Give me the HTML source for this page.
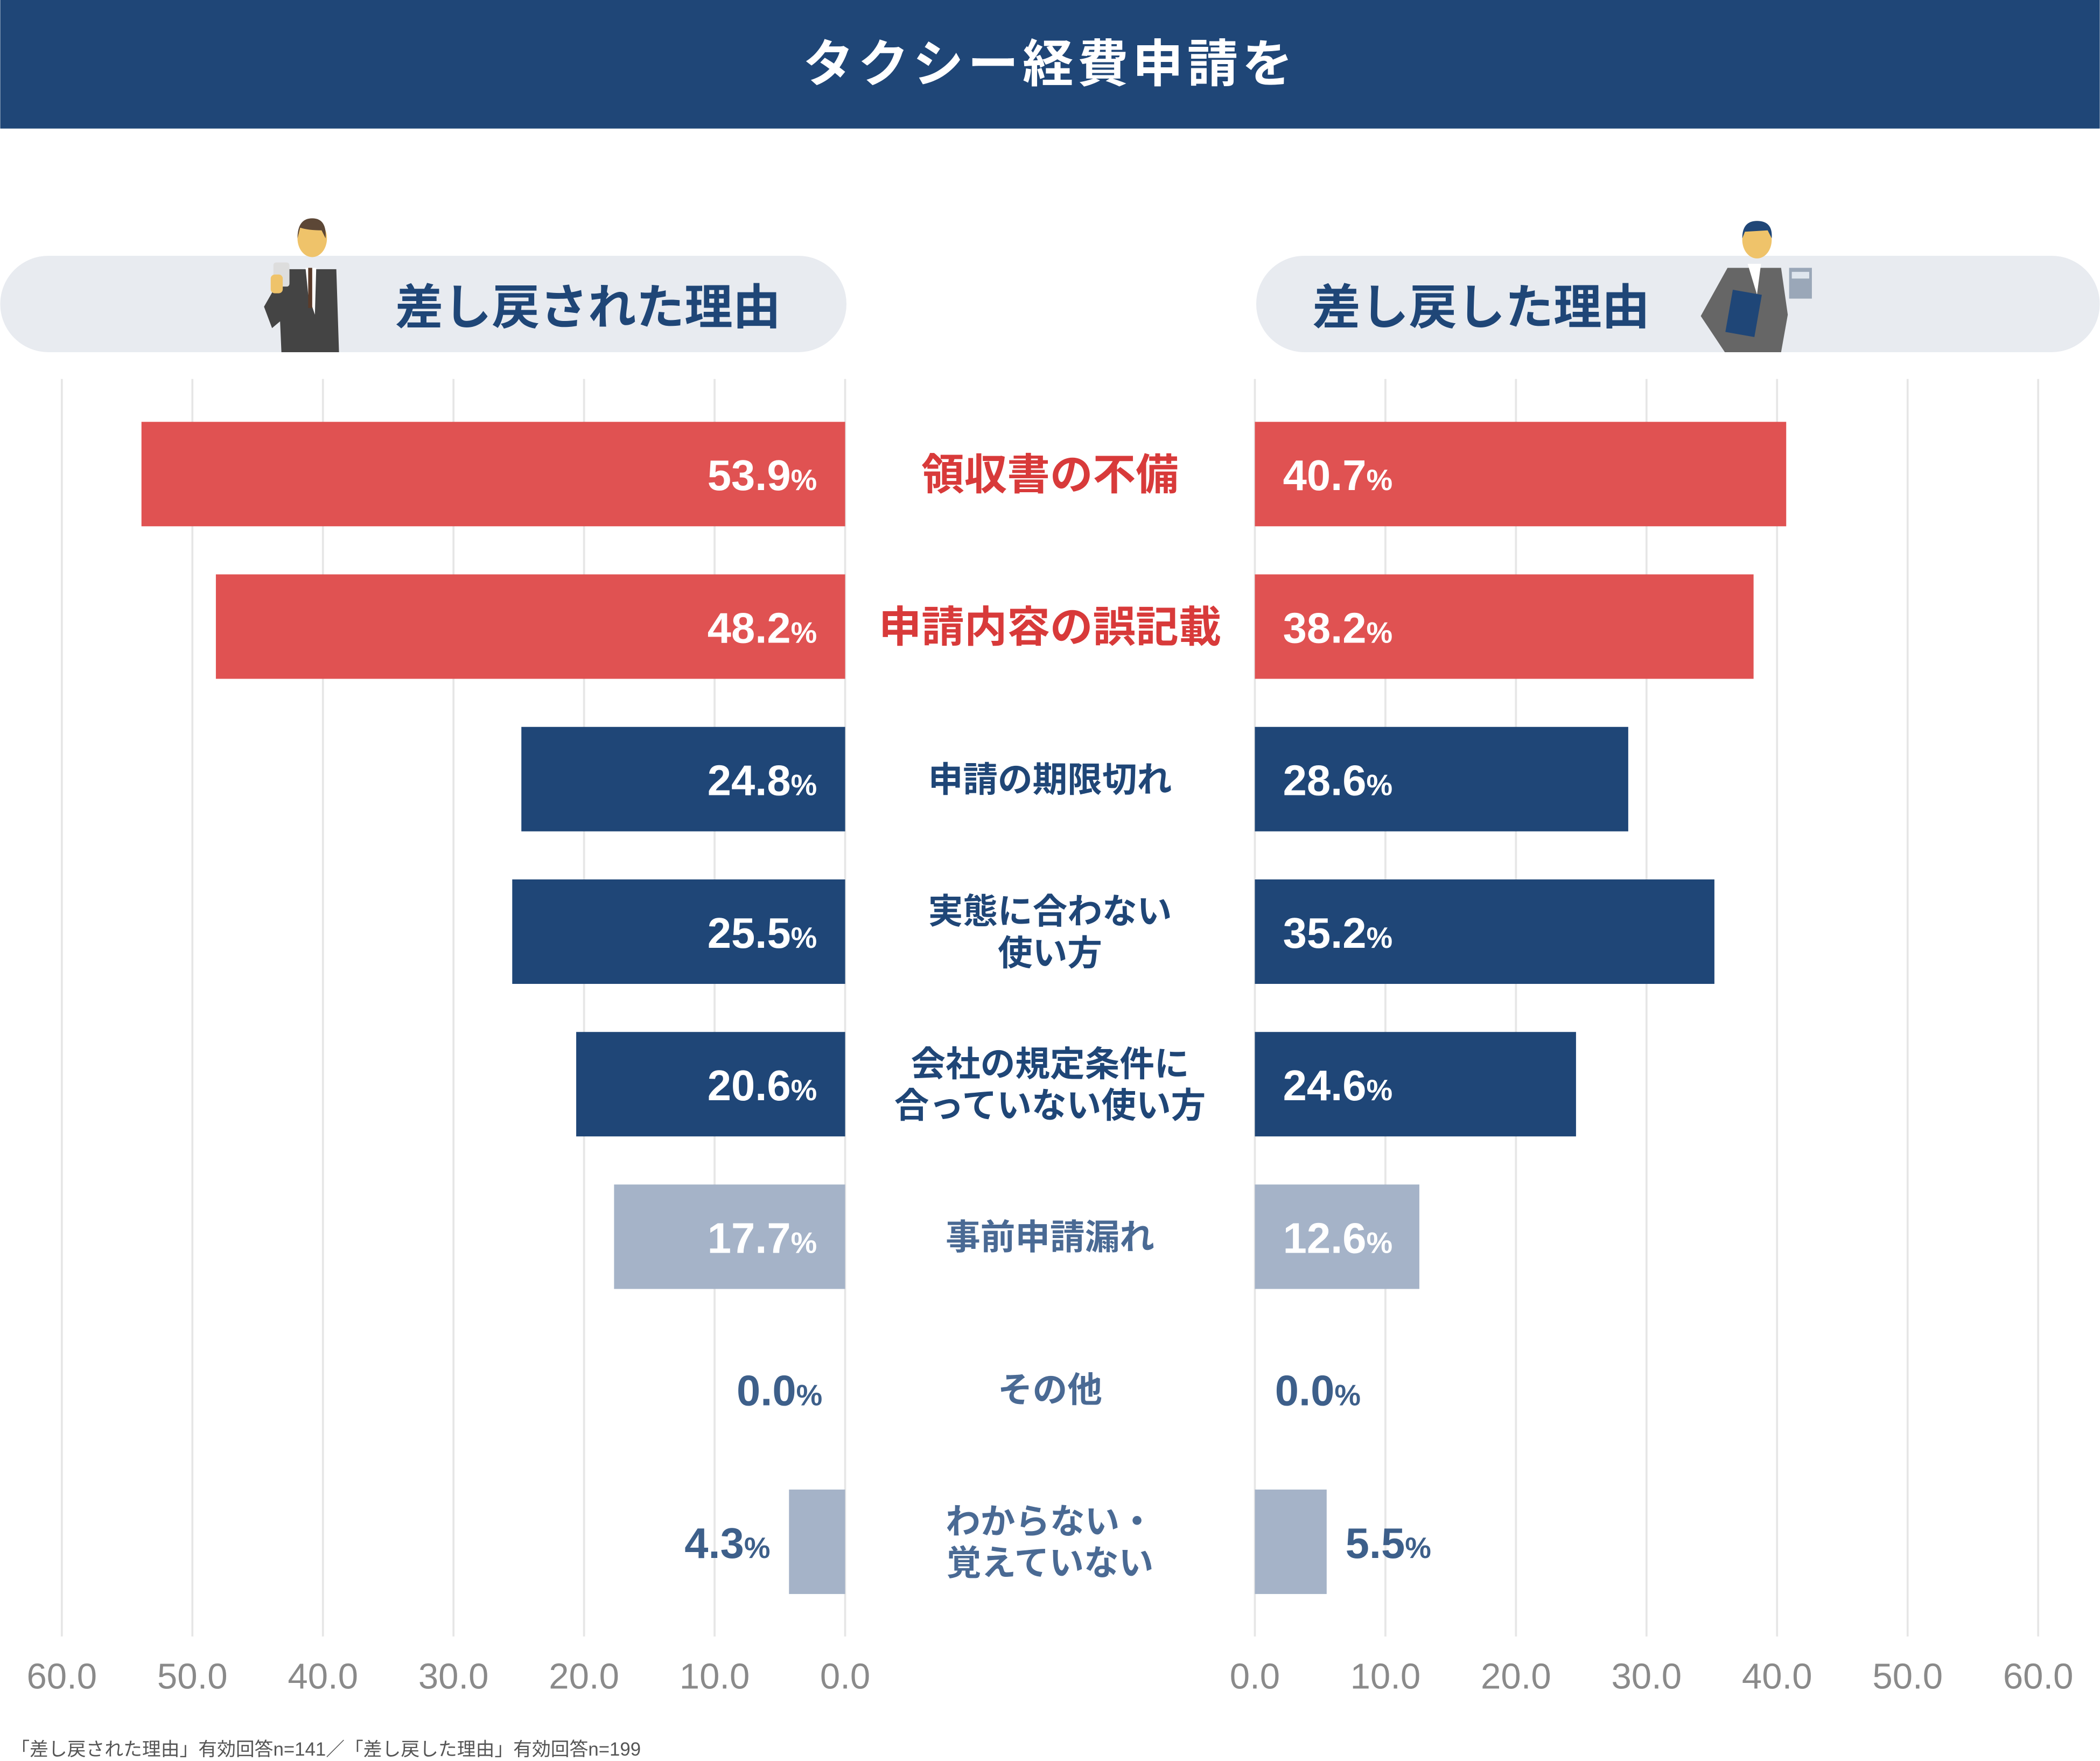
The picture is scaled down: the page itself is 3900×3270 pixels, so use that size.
<!DOCTYPE html>
<html><head><meta charset="utf-8"><style>
html,body{margin:0;padding:0;background:#fff;}
svg{display:block;}
text{font-family:"Liberation Sans","Noto Sans CJK JP",sans-serif;}
</style></head><body>
<svg id="chart" width="3900" height="3270" viewBox="0 0 1568 1315" xmlns="http://www.w3.org/2000/svg">
<rect x="0" y="0" width="1568" height="96" fill="#1f4677"/>
<text x="784" y="61" text-anchor="middle" font-size="38" font-weight="bold" fill="#fff" letter-spacing="3">タクシー経費申請を</text>
<rect x="0" y="191" width="632" height="72" rx="36" fill="#e8ebf0"/>
<rect x="938" y="191" width="630" height="72" rx="36" fill="#e8ebf0"/>
<text x="295" y="242" font-size="36" font-weight="bold" fill="#1f4677">差し戻された理由</text>
<text x="980" y="242" font-size="36" font-weight="bold" fill="#1f4677">差し戻した理由</text>
<g>
<path d="M197,229 L213,201 L251,201 L253,263 L210,263 L209,240 L203,245 Z" fill="#444"/>
<path d="M228,200 L236,200 L235,235 L230,220 Z" fill="#fff"/>
<rect x="230" y="200" width="3" height="30" fill="#5a3b2a"/>
<ellipse cx="233" cy="178" rx="11" ry="14" fill="#efc36a"/>
<path d="M222,178 Q222,163 233,163 Q244,163 243,178 L240,172 Q230,172 224,170 Z" fill="#5c4736"/>
<rect x="204" y="196" width="12" height="18" rx="2" fill="#ddd"/>
<rect x="202" y="205" width="9" height="14" rx="3" fill="#efc36a"/>
</g>
<g>
<path d="M1270,236 L1290,200 L1330,200 L1335,235 L1330,263 L1288,263 Z" fill="#666"/>
<path d="M1305,197 L1315,197 L1312,220 Z" fill="#fff"/>
<ellipse cx="1312" cy="179" rx="11" ry="14" fill="#efc36a"/>
<path d="M1301,178 Q1301,165 1312,165 Q1324,165 1323,178 L1320,172 L1303,173 Z" fill="#1f4677"/>
<rect x="1291" y="218" width="22" height="32" fill="#1f4677" transform="rotate(10 1302 234)"/>
<rect x="1336" y="200" width="17" height="23" fill="#9aa7b8"/>
<rect x="1338" y="203" width="13" height="5" fill="#dfe6ee"/>
</g>
<g id="grid"></g>
<g id="bars"></g>
<g id="labels"></g>
<g id="ticks"></g>
<text x="8" y="1311" font-size="14" fill="#555">「差し戻された理由」有効回答n=141／「差し戻した理由」有効回答n=199</text>
</svg>
<script>
const categories = [["領収書の不備"],["申請内容の誤記載"],["申請の期限切れ"],["実態に合わない","使い方"],["会社の規定条件に","合っていない使い方"],["事前申請漏れ"],["その他"],["わからない・","覚えていない"]];
const leftValues = [53.9, 48.2, 24.8, 25.5, 20.6, 17.7, 0.0, 4.3];
const rightValues = [40.7, 38.2, 28.6, 35.2, 24.6, 12.6, 0.0, 5.5];
const tickValues = [0, 10, 20, 30, 40, 50, 60];
const groups = ["red","red","navy","navy","navy","light","light","light"];

const NS = "http://www.w3.org/2000/svg";
const unit = (631-46)/60;
const xL = v => 631 - v*unit;
const xR = v => 937 + v*unit;
const rowY = i => 354 + i*113.9;
const barH = 78;
const fills = {red:"#e05252", navy:"#1f4677", light:"#a5b3c8"};
const labelCol = {red:"#d83a3a", navy:"#1f4677", light:"#4a6a94"};
function mk(tag, attrs, parent, txt){
  const e = document.createElementNS(NS, tag);
  for (const k in attrs) e.setAttribute(k, attrs[k]);
  if (txt !== undefined) e.textContent = txt;
  parent.appendChild(e); return e;
}
const grid = document.getElementById('grid');
const ticks = document.getElementById('ticks');
tickValues.forEach(t => {
  [xL(t), xR(t)].forEach((x, side) => {
    const l = mk('line', {x1:x, x2:x, y1:283, y2:1222, stroke:'#e6e6e6', 'stroke-width':1.5}, grid);
    
    
    const tx = mk('text', {x:x, y:1261, 'text-anchor':'middle', 'font-size':27, fill:'#8a8a8a'}, ticks, t.toFixed(1));
    
    
  });
});
const bars = document.getElementById('bars');
const labels = document.getElementById('labels');
function valText(parent, x, y, anchor, v, color, name){
  const t = mk('text', {x:x, y:y, 'text-anchor':anchor, 'font-size':32, 'font-weight':'bold', fill:color}, parent);
  mk('tspan', {}, t, v.toFixed(1));
  mk('tspan', {'font-size':22}, t, '%');
  
  
}
categories.forEach((c, i) => {
  const cy = rowY(i), g = groups[i], f = fills[g];
  const lv = leftValues[i], rv = rightValues[i];
  if (lv > 0) {
    const r = mk('rect', {x:xL(lv), y:cy-barH/2, width:lv*unit, height:barH, fill:f}, bars);
    
    
  }
  if (rv > 0) {
    const r = mk('rect', {x:937, y:cy-barH/2, width:rv*unit, height:barH, fill:f}, bars);
    
    
  }
  const outCol = "#3d5f8a";
  const lInside = lv*unit > 120, rInside = rv*unit > 110;
  if (lInside) valText(bars, 610, cy+12, 'end', lv, '#fff', 'left-value-label');
  else valText(bars, lv > 0 ? xL(lv)-14 : 614, cy+12, 'end', lv, outCol, 'left-value-label');
  if (rInside) valText(bars, 958, cy+12, 'start', rv, '#fff', 'right-value-label');
  else valText(bars, rv > 0 ? xR(rv)+14 : 952, cy+12, 'start', rv, outCol, 'right-value-label');
  const big = g === 'red';
  const fs = big ? 32 : 26;
  c.forEach((ln, j) => {
    const y = cy + (j - (c.length-1)/2)*31 + fs*0.36;
    const t = mk('text', {x:784, y:y, 'text-anchor':'middle', 'font-size':fs, 'font-weight':'bold', fill:labelCol[g]}, labels, ln);
    
    
  });
});
</script>
</body></html>
